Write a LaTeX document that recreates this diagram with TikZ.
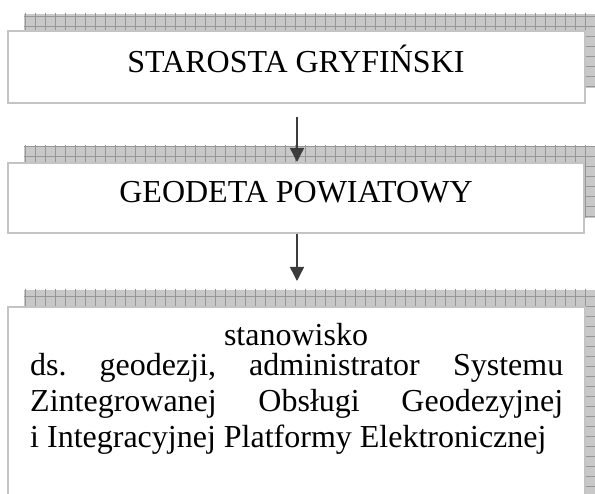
\documentclass[tikz,border=0pt]{standalone}
\usepackage{fontspec}
\setmainfont{Liberation Serif}
\usetikzlibrary{arrows.meta,calc,backgrounds}
\definecolor{frame}{HTML}{C4C4C4}
\definecolor{shadowfill}{HTML}{C8C8C8}
\definecolor{shadowgrid}{HTML}{969696}
\definecolor{arrowcol}{HTML}{3C3C3C}
\tikzset{
  orgbox/.style={draw=frame, line width=2pt, fill=white, rectangle, inner sep=0pt},
  lbl/.style={inner sep=0pt, font=\fontsize{32}{36}\selectfont\frenchspacing, text=black},
  link/.style={draw=arrowcol, line width=1.4pt,
    -{Triangle[length=14pt,width=14pt]}},
}
% patterned shadow behind a box, shifted right and up
\newcommand{\gridshadow}[1]{%
  \begin{scope}
    \path[fill=shadowfill] ($(#1.north west)+(17,-16)$) rectangle ($(#1.south east)+(17,-16)$);
    \clip ($(#1.north west)+(17,-16)$) rectangle ($(#1.south east)+(17,-16)$);
    \foreach \gx in {5,15,...,605} \draw[shadowgrid, line width=0.7pt] (\gx,0) -- (\gx,520);
    \foreach \gy in {6,16,...,526} \draw[shadowgrid, line width=0.7pt] (0,\gy) -- (620,\gy);
  \end{scope}}
\begin{document}
\begin{tikzpicture}[x=1pt,y=-1pt]
  \useasboundingbox (0,0) rectangle (595,494);
  \clip (0,0) rectangle (595,494);

  % boxes
  \node[orgbox, minimum width=577pt, minimum height=72pt] (b1) at (296.5,67) {};
  \node[orgbox, minimum width=576pt, minimum height=70pt] (b2) at (296,198) {};
  \node[orgbox, minimum width=577pt, minimum height=213pt] (b3) at (296.5,413.5) {};

  \begin{scope}[on background layer]
    \gridshadow{b1}
    \gridshadow{b2}
    \gridshadow{b3}
  \end{scope}

  % labels
  \node[lbl, anchor=base] (t1) at (296,73) {STAROSTA GRYFIŃSKI};
  \node[lbl, anchor=base] (t2) at (296,203) {GEODETA POWIATOWY};
  \node[lbl, anchor=base] (t3a) at (296,346) {stanowisko};
  \node[lbl, anchor=base west] (t3b) at (30,376)
    {\makebox[533pt][s]{ds. geodezji, administrator Systemu}};
  \node[lbl, anchor=base west] (t3c) at (30,412)
    {\makebox[533pt][s]{Zintegrowanej Obsługi Geodezyjnej}};
  \node[lbl, anchor=base west] (t3d) at (30,448)
    {i Integracyjnej Platformy Elektronicznej};

  % connectors
  \coordinate (a1s) at ($(b1.south)+(0.5,13)$);
  \coordinate (a1e) at ($(b2.north)+(1,0)$);
  \coordinate (a2s) at ($(b2.south)+(1,0)$);
  \coordinate (a2e) at ($(b3.north)+(0.5,-25)$);
  \draw[link] (a1s) -- (a1e);
  \draw[link] (a2s) -- (a2e);
\end{tikzpicture}
\end{document}
